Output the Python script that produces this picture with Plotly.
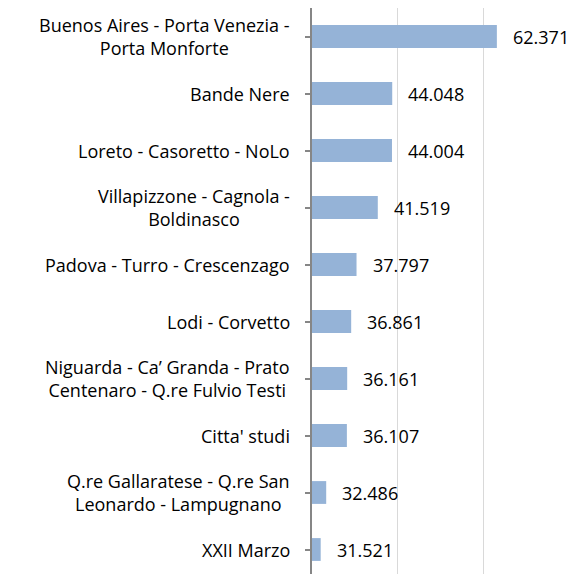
import plotly.graph_objects as go

categories = [
    "Buenos Aires - Porta Venezia -<br>Porta Monforte",
    "Bande Nere",
    "Loreto - Casoretto - NoLo",
    "Villapizzone - Cagnola -<br>Boldinasco",
    "Padova - Turro - Crescenzago",
    "Lodi - Corvetto",
    "Niguarda - Ca’ Granda - Prato<br>Centenaro - Q.re Fulvio Testi",
    "Citta' studi",
    "Q.re Gallaratese - Q.re San<br>Leonardo - Lampugnano",
    "XXII Marzo",
]
values = [62371, 44048, 44004, 41519, 37797, 36861, 36161, 36107, 32486, 31521]
value_labels = ["62.371", "44.048", "44.004", "41.519", "37.797",
                "36.861", "36.161", "36.107", "32.486", "31.521"]
axis_min = 30000

FONT = "Open Sans"
ids = list(range(len(categories)))

fig = go.Figure(go.Bar(
    y=ids, x=[v - axis_min for v in values], orientation="h",
    base=axis_min,
    marker=dict(color="#95B3D7", line=dict(width=0)),
    width=0.4,
    hoverinfo="skip",
))

annotations = []
for i, (c, v, t) in enumerate(zip(categories, values, value_labels)):
    annotations.append(dict(
        xref="paper", x=0, yref="y", y=i, text=c, showarrow=False,
        xanchor="right", yanchor="middle", align="center", xshift=-20,
        font=dict(family=FONT, size=18, color="#000000"),
    ))
    annotations.append(dict(
        xref="x", x=v, yref="y", y=i, text=t, showarrow=False,
        xanchor="left", yanchor="middle", xshift=14,
        font=dict(family=FONT, size=18, color="#000000"),
    ))

fig.update_layout(
    width=573, height=580,
    margin=dict(l=312, r=4, t=8, b=2),
    paper_bgcolor="white", plot_bgcolor="white",
    showlegend=False,
    annotations=annotations,
    xaxis=dict(range=[30000, 75000], tick0=30000, dtick=15000,
               showticklabels=False, showgrid=True, gridcolor="#D9D9D9",
               gridwidth=1, zeroline=False, showline=False, ticks=""),
    yaxis=dict(range=[len(categories) - 0.5, -0.5], tickvals=ids,
               showticklabels=False, ticks="outside", tickson="boundaries",
               ticklen=5, tickcolor="#868686", tickwidth=1.5,
               showline=True, linecolor="#868686", linewidth=1.5,
               showgrid=False, zeroline=False),
)

fig.write_html("out.html", config={"displayModeBar": False},
               post_script="document.body.style.margin='0';")
